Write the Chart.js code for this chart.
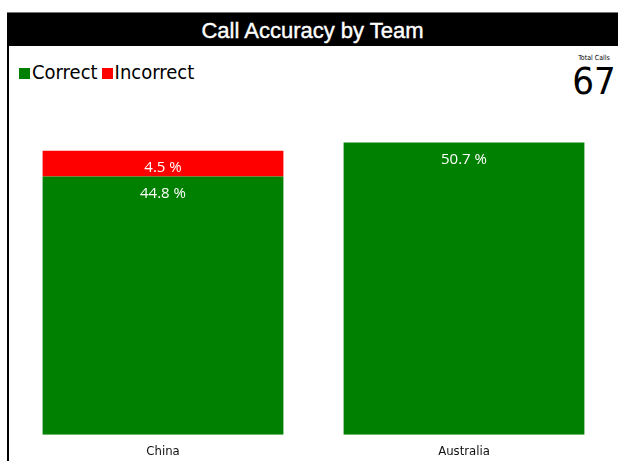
<!DOCTYPE html>
<html>
<head>
<meta charset="utf-8">
<script src="https://cdn.jsdelivr.net/npm/chart.js@4.4.0/dist/chart.umd.min.js"></script>
<style>
  body { margin: 0; background: #fff; width: 618px; height: 461px; overflow: hidden; position: relative; }
  #panel { position: absolute; left: 7px; top: 12px; width: 611px; height: 449px; border-left: 2px solid #000; box-sizing: border-box; }
  #header { position: absolute; left: 7px; top: 12px; width: 611px; height: 34px; background: #000; border-top: 1px solid #777; box-sizing: border-box;
            color: #fff; font-family: "Liberation Sans", Arial, sans-serif; font-size: 22px; text-align: center; line-height: 35px;
            -webkit-text-stroke: 0.4px #fff; }
  #legend { position: absolute; left: 19px; top: 60px; font-family: "DejaVu Sans Condensed", "DejaVu Sans", sans-serif; font-size: 20px; color: #000; }
  #legend span.box { display: inline-block; width: 11px; height: 11px; margin-right: 2px; }
  #legend span.item { margin-right: 4px; }
  #total { position: absolute; left: 566px; top: 54px; width: 56px; text-align: center; font-family: "DejaVu Sans Condensed", "DejaVu Sans", sans-serif; color: #000; }
  #total .lbl { font-size: 7px; line-height: 9px; }
  #total .num { font-size: 38px; line-height: 36px; }
  #wrap { position: absolute; left: 9px; top: 46px; width: 609px; height: 427px; }
</style>
</head>
<body>
<div id="panel"></div>
<div id="header">Call Accuracy by Team</div>
<div id="legend"></div>
<div id="total"><div class="lbl">Total Calls</div><div class="num" id="totalNum"></div></div>
<div id="wrap"><canvas id="myChart"></canvas></div>
<script>
// datos de la grafica
var equipos = ['China', 'Australia'];
var correctos = [44.8, 50.7];
var incorrectos = [4.5, 0];
var totalLlamadas = 67;
var colores = ['#008000', '#ff0000'];
var nombres = ['Correct', 'Incorrect'];

document.getElementById('totalNum').textContent = totalLlamadas;

// leyenda en html
var leg = '';
for (var i in nombres) {
    leg += '<span class="item"><span class="box" style="background:' + colores[i] + '"></span>' + nombres[i] + '</span>';
}
document.getElementById('legend').innerHTML = leg;

// etiquetas de porcentaje arriba de cada segmento
var etiquetas = {
    id: 'etiquetas',
    afterDatasetsDraw: function(chart) {
        var ctx = chart.ctx;
        ctx.save();
        ctx.fillStyle = '#ffffff';
        ctx.font = '15px "Open Sans", sans-serif';
        ctx.textAlign = 'center';
        ctx.textBaseline = 'middle';
        chart.data.datasets.forEach(function(ds, d) {
            var meta = chart.getDatasetMeta(d);
            meta.data.forEach(function(bar, k) {
                var v = ds.data[k];
                if (!v) return; // sin valor no se pinta
                ctx.fillText(v.toFixed(1) + ' %', bar.x, bar.y + 17.5);
            });
        });
        ctx.restore();
    }
};

var graphTarget = document.getElementById('myChart');
var barGraph = new Chart(graphTarget, {
    type: 'bar',
    data: {
        labels: equipos,
        datasets: [
            { label: nombres[0], data: correctos, backgroundColor: colores[0], borderWidth: 0 },
            { label: nombres[1], data: incorrectos, backgroundColor: colores[1], borderWidth: 0 }
        ]
    },
    options: {
        responsive: true,
        maintainAspectRatio: false,
        animation: false,
        layout: { padding: { left: 3.5, right: 3.5, top: 43, bottom: 4.6 } },
        plugins: { legend: { display: false }, tooltip: { enabled: false } },
        datasets: { bar: { categoryPercentage: 1, barPercentage: 0.8 } },
        scales: {
            x: {
                stacked: true,
                grid: { display: false, drawTicks: false },
                border: { display: false },
                ticks: { color: '#111', padding: 9, font: { family: '"DejaVu Sans Condensed", "DejaVu Sans", sans-serif', size: 13 } }
            },
            y: {
                stacked: true,
                display: false,
                min: 0,
                max: 60
            }
        }
    },
    plugins: [etiquetas]
});
</script>
</body>
</html>
